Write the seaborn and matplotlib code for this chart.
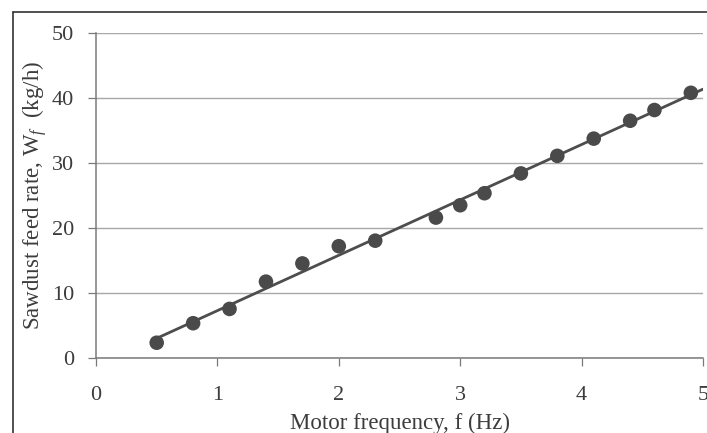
import numpy as np
import pandas as pd
import matplotlib
matplotlib.use("Agg")
import matplotlib.pyplot as plt
from matplotlib.lines import Line2D
import seaborn as sns

# Measured motor frequency (Hz) and sawdust feed rate (kg/h)
frequency = [0.5, 0.8, 1.1, 1.4, 1.7, 2.0, 2.3, 2.8, 3.0, 3.2, 3.5, 3.8, 4.1, 4.4, 4.6, 4.9]
feed_rate = [2.35, 5.35, 7.55, 11.75, 14.55, 17.2, 18.05, 21.6, 23.5, 25.35, 28.4, 31.1, 33.75, 36.5, 38.15, 40.8]

# Range over which the linear trend is drawn
trend_range = [0.5, 5.0]

x_ticks = [0, 1, 2, 3, 4, 5]
y_ticks = [0, 10, 20, 30, 40, 50]

sns.set_style("white")
plt.rcParams["font.family"] = ["Liberation Serif", "DejaVu Serif"]
plt.rcParams["mathtext.fontset"] = "custom"
plt.rcParams["mathtext.rm"] = "Liberation Serif"
plt.rcParams["mathtext.it"] = "Liberation Serif:italic"

text_color = "#3c3c3c"
mark_color = "#4a4a4a"
axis_color = "#7a7a7a"

df = pd.DataFrame({"f": frequency, "W": feed_rate})
slope, intercept = np.polyfit(df["f"], df["W"], 1)
trend = pd.DataFrame({"f": trend_range})
trend["W"] = slope * trend["f"] + intercept

fig = plt.figure(figsize=(7.07, 4.33), dpi=100)
ax = fig.add_axes([96 / 707, 75 / 433, 607 / 707, 325 / 433])

ax.set_xlim(0, 5)
ax.set_ylim(0, 50)
ax.set_xticks(x_ticks)
ax.set_yticks(y_ticks)
ax.yaxis.grid(True, color="#a8a8a8", linewidth=1.0)
ax.xaxis.grid(False)
ax.set_axisbelow(True)

sns.lineplot(data=trend, x="f", y="W", ax=ax, color="#4d4d4d", linewidth=2.0, zorder=3)
sns.scatterplot(data=df, x="f", y="W", ax=ax, color=mark_color, s=110,
                edgecolor="none", linewidth=0, zorder=4)

for side in ["top", "right"]:
    ax.spines[side].set_visible(False)
for side in ["left", "bottom"]:
    ax.spines[side].set_color(axis_color)
    ax.spines[side].set_linewidth(1.1)

ax.tick_params(axis="both", which="major", bottom=True, left=True, direction="out",
               length=5.8, width=0.9, color=axis_color,
               labelsize=16, labelcolor=text_color)
ax.tick_params(axis="y", pad=10)
ax.tick_params(axis="x", pad=14.4)

ax.set_xlabel("Motor frequency, f (Hz)", fontsize=16.5, color=text_color, labelpad=5.5)
ax.set_ylabel(r"Sawdust feed rate, W$_{f}$  (kg/h)", fontsize=16.5, color=text_color, labelpad=1.7)

# Outer frame lines along the top and left of the figure
fig.add_artist(Line2D([13 / 707, 1.0], [1 - 12 / 433, 1 - 12 / 433],
                      transform=fig.transFigure, color="#333333", linewidth=1.2))
fig.add_artist(Line2D([13 / 707, 13 / 707], [0.0, 1 - 12 / 433],
                      transform=fig.transFigure, color="#333333", linewidth=1.2))

fig.savefig("out.png", dpi=100)
